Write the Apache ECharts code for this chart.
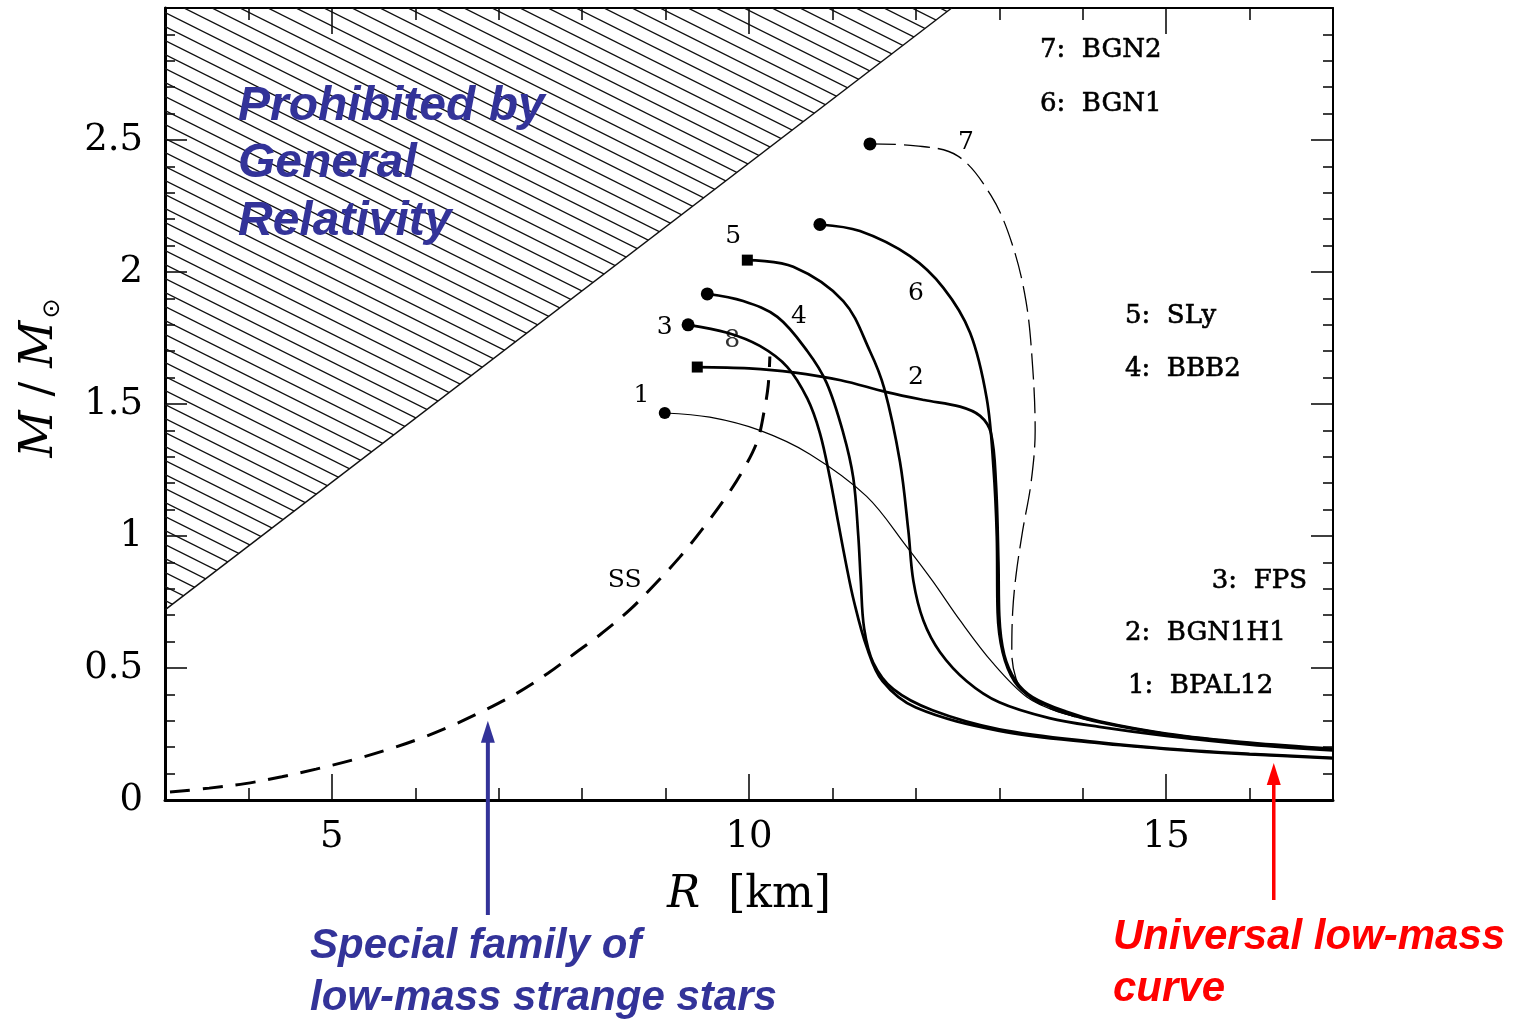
<!DOCTYPE html>
<html><head><meta charset="utf-8">
<script src="https://cdn.jsdelivr.net/npm/echarts@6/dist/echarts.min.js"></script>
<style>html,body{margin:0;padding:0;background:#fff}#c{width:1522px;height:1023px}</style>
</head><body><div id="c"></div>
<script>
// ---- data (R in km, M in solar masses) ----
const xLabeledTicks = [5, 10, 15];
const yTickLabels = ['0', '0.5', '1', '1.5', '2', '2.5'];
const grLimit = [[3, 0.72], [12.43, 3]];

const BGN2 = [[11.45,2.485],[12.0,2.478],[12.5,2.44],[12.9,2.29],[13.15,2.11],[13.32,1.89],[13.40,1.64],[13.43,1.40],[13.38,1.20],[13.28,1.02],[13.20,0.85],[13.16,0.71],[13.15,0.56],[13.2,0.46],[13.3,0.41],[13.45,0.37],[13.8,0.325],[14.2,0.295],[15.0,0.25],[16.0,0.215],[17.0,0.192]];
const BGN1 = [[10.85,2.18],[11.33,2.155],[11.93,2.06],[12.33,1.94],[12.65,1.77],[12.85,1.52],[12.93,1.26],[12.97,1.0],[12.98,0.71],[13.04,0.56],[13.18,0.45],[13.4,0.385],[13.8,0.33],[14.2,0.295],[15.0,0.25],[16.0,0.215],[17.0,0.192]];
const BGN1H1 = [[9.38,1.64],[10.0,1.635],[10.53,1.62],[11.1,1.59],[11.65,1.545],[12.1,1.515],[12.53,1.49],[12.77,1.455],[12.9,1.39],[12.96,1.2],[12.99,0.9],[13.0,0.7],[13.06,0.55],[13.2,0.45],[13.4,0.39],[13.8,0.335],[14.2,0.298],[15.0,0.252],[16.0,0.217],[17.0,0.194]];
const SLy = [[9.98,2.045],[10.53,2.02],[11.13,1.89],[11.45,1.70],[11.62,1.56],[11.81,1.28],[11.91,1.02],[11.97,0.83],[12.09,0.68],[12.29,0.56],[12.61,0.45],[13.0,0.37],[13.6,0.31],[14.2,0.277],[15.0,0.243],[16.0,0.21],[17.0,0.188]];
const BBB2 = [[9.5,1.917],[9.93,1.89],[10.34,1.83],[10.70,1.70],[10.93,1.58],[11.13,1.39],[11.25,1.22],[11.31,1.0],[11.34,0.83],[11.38,0.65],[11.49,0.52],[11.73,0.42],[12.2,0.34],[13.0,0.268],[14.2,0.218],[15.0,0.195],[16.0,0.175],[17.0,0.16]];
const FPS = [[9.27,1.80],[9.74,1.77],[10.13,1.72],[10.46,1.64],[10.70,1.52],[10.85,1.39],[10.97,1.22],[11.07,1.05],[11.16,0.9],[11.26,0.75],[11.41,0.58],[11.6,0.45],[12.0,0.35],[13.0,0.262],[14.2,0.215],[15.0,0.193],[16.0,0.173],[17.0,0.158]];
const BPAL12 = [[8.99,1.466],[9.53,1.45],[10.13,1.40],[10.73,1.31],[11.41,1.15],[11.89,0.96],[12.2,0.83],[12.53,0.68],[12.92,0.52],[13.33,0.39],[13.7,0.335],[14.2,0.297],[15.0,0.252],[16.0,0.216],[17.0,0.193]];
const SS = [[3.06,0.03],[3.53,0.045],[3.96,0.062],[4.40,0.088],[4.81,0.117],[5.23,0.15],[5.64,0.188],[6.05,0.232],[6.44,0.282],[6.83,0.34],[7.22,0.405],[7.59,0.48],[7.91,0.555],[8.21,0.625],[8.57,0.72],[8.85,0.81],[9.17,0.92],[9.45,1.03],[9.73,1.15],[9.93,1.25],[10.10,1.36],[10.18,1.47],[10.23,1.57],[10.25,1.68]];

const curveLabels = [['1',8.71,1.534],['3',8.99,1.788],['5',9.81,2.133],['4',10.60,1.833],['6',12.0,1.917],['2',12.0,1.602],['7',12.60,2.489],['SS',8.51,0.833]];
const hiddenLabel = [['8',9.80,1.742]];
const legendLines = ['7:  BGN2','6:  BGN1','5:  SLy','4:  BBB2','3:  FPS','2:  BGN1H1','1:  BPAL12'];
const arrowTips = { blue: [6.87, 0.30], red: [16.29, 0.14] };

// ---- hatch pattern ----
function hatchPattern() {
  const W = 28, H = 14;
  const c = document.createElement('canvas');
  c.width = W; c.height = H;
  const g = c.getContext('2d');
  g.strokeStyle = '#111'; g.lineWidth = 1.3;
  for (const off of [-H, 0, H]) {
    g.beginPath(); g.moveTo(-2, off - 1); g.lineTo(W + 2, off + H + 1); g.stroke();
  }
  return { image: c, repeat: 'repeat' };
}
const pattern = hatchPattern();

const chart = echarts.init(document.getElementById('c'), null, { renderer: 'canvas' });
const serif = 'DejaVu Serif';
const blk = '#000';

function lineSeries(data, width, type) {
  return { type: 'line', data: data, xAxisIndex: 0, yAxisIndex: 0, showSymbol: false, symbol: 'none',
    smooth: 0.35, lineStyle: { color: blk, width: width, type: type || 'solid' }, z: 3, silent: true, animation: false };
}

const xBase = { type: 'value', min: 3, max: 17, gridIndex: 0, splitLine: { show: false } };
const yBase = { type: 'value', min: 0, max: 3, gridIndex: 0, splitLine: { show: false } };
const numLabel = { show: true, position: 'inside', formatter: p => p.data[2], fontFamily: serif, fontSize: 25, color: blk, opacity: 1 };

chart.setOption({
  animation: false,
  backgroundColor: '#fff',
  grid: { left: 165, right: 189, top: 8, bottom: 223, containLabel: false },
  xAxis: [
    Object.assign({}, xBase, { position: 'bottom', interval: 1,
      axisLine: { show: true, onZero: false, lineStyle: { color: blk, width: 3 } },
      axisTick: { show: true, inside: true, length: 12, lineStyle: { color: blk, width: 1.5 } },
      axisLabel: { customValues: xLabeledTicks, margin: 19, fontFamily: serif, fontSize: 37, color: blk },
      name: '{i|R}  [km]', nameLocation: 'middle', nameGap: 74,
      nameTextStyle: { fontFamily: serif, fontSize: 44, color: blk,
        rich: { i: { fontFamily: serif, fontStyle: 'italic', fontSize: 44, color: blk } } } }),
    Object.assign({}, xBase, { position: 'bottom',
      axisLine: { show: false, onZero: false },
      axisTick: { show: true, inside: true, length: 26, customValues: xLabeledTicks, lineStyle: { color: blk, width: 1.5 } },
      axisLabel: { show: false } }),
    Object.assign({}, xBase, { position: 'top', interval: 1,
      axisLine: { show: true, onZero: false, lineStyle: { color: blk, width: 2 } },
      axisTick: { show: true, inside: true, length: 12, lineStyle: { color: blk, width: 1.5 } },
      axisLabel: { show: false } }),
    Object.assign({}, xBase, { position: 'top',
      axisLine: { show: false, onZero: false },
      axisTick: { show: true, inside: true, length: 26, customValues: xLabeledTicks, lineStyle: { color: blk, width: 1.5 } },
      axisLabel: { show: false } })
  ],
  yAxis: [
    Object.assign({}, yBase, { position: 'left', interval: 0.5,
      axisLine: { show: true, onZero: false, lineStyle: { color: blk, width: 3 } },
      axisTick: { show: true, inside: true, length: 22, lineStyle: { color: blk, width: 1.5 } },
      minorTick: { show: true, splitNumber: 5, length: 10, lineStyle: { color: blk, width: 1.5 } },
      minorSplitLine: { show: false },
      axisLabel: { margin: 22, fontFamily: serif, fontSize: 37, color: blk,
        formatter: v => (v < 3 ? yTickLabels[Math.round(v / 0.5)] : '') } }),
    Object.assign({}, yBase, { position: 'right', interval: 0.5,
      axisLine: { show: true, onZero: false, lineStyle: { color: blk, width: 2 } },
      axisTick: { show: true, inside: true, length: 22, lineStyle: { color: blk, width: 1.5 } },
      minorTick: { show: true, splitNumber: 5, length: 10, lineStyle: { color: blk, width: 1.5 } },
      minorSplitLine: { show: false },
      axisLabel: { show: false } })
  ],
  series: [
    { type: 'custom', xAxisIndex: 0, yAxisIndex: 0, data: [grLimit[0]], z: 1, silent: true,
      renderItem: function (params, api) {
        const a = api.coord(grLimit[0]), b = api.coord(grLimit[1]), c = api.coord([grLimit[0][0], grLimit[1][1]]);
        return { type: 'group', children: [
          { type: 'polygon', shape: { points: [a, b, c] }, style: { fill: pattern, stroke: null } },
          { type: 'line', shape: { x1: a[0], y1: a[1], x2: b[0], y2: b[1] }, style: { stroke: '#111', lineWidth: 1.5 } }
        ] };
      } },
    { type: 'scatter', data: hiddenLabel.map(d => [d[1], d[2], d[0]]), symbolSize: 1, itemStyle: { color: 'rgba(0,0,0,0)', opacity: 1 }, z: 2, silent: true,
      label: Object.assign({}, numLabel, { color: '#333' }) },
    lineSeries(BGN2, 1.3, [26, 8]),
    lineSeries(BGN1, 2.7),
    lineSeries(BGN1H1, 2.7),
    lineSeries(SLy, 2.7),
    lineSeries(BBB2, 2.7),
    lineSeries(FPS, 2.7),
    lineSeries(BPAL12, 1.2),
    lineSeries(SS, 3, [20, 13]),
    { type: 'scatter', z: 5, silent: true, itemStyle: { color: blk, opacity: 1 },
      data: [
        { value: BGN2[0], symbol: 'circle', symbolSize: 13 },
        { value: BGN1[0], symbol: 'circle', symbolSize: 13 },
        { value: BBB2[0], symbol: 'circle', symbolSize: 13 },
        { value: FPS[0], symbol: 'circle', symbolSize: 13 },
        { value: BPAL12[0], symbol: 'circle', symbolSize: 12 },
        { value: SLy[0], symbol: 'rect', symbolSize: 11 },
        { value: BGN1H1[0], symbol: 'rect', symbolSize: 11 }
      ] },
    { type: 'scatter', data: curveLabels.map(d => [d[1], d[2], d[0]]), symbolSize: 1, itemStyle: { color: 'rgba(0,0,0,0)', opacity: 1 }, z: 6, silent: true,
      label: numLabel }
  ]
});

// ---- annotations ----
const bt = chart.convertToPixel({ xAxisIndex: 0, yAxisIndex: 0 }, arrowTips.blue);
const rt = chart.convertToPixel({ xAxisIndex: 0, yAxisIndex: 0 }, arrowTips.red);
function arrow(tip, tailY, color, w) {
  return [
    { type: 'line', shape: { x1: tip[0], y1: tip[1] + 18, x2: tip[0], y2: tailY }, style: { stroke: color, lineWidth: w }, z: 10 },
    { type: 'polygon', shape: { points: [[tip[0], tip[1]], [tip[0] - 7, tip[1] + 22], [tip[0] + 7, tip[1] + 22]] }, style: { fill: color }, z: 10 }
  ];
}
const legFont = '26px "DejaVu Serif"';
const legendPos = [[1040, 50, 'left'], [1040, 104, 'left'], [1125, 316, 'left'], [1125, 369, 'left'], [1307, 581, 'right'], [1125, 633, 'left'], [1128, 686, 'left']];
const legendGraphics = legendLines.map((t, i) => ({ type: 'text', x: legendPos[i][0], y: legendPos[i][1], z: 10,
  style: { text: t, font: legFont, fill: blk, stroke: blk, lineWidth: 0.6, align: legendPos[i][2], verticalAlign: 'middle' } }));
const blue = '#333399', red = '#ff0000';
chart.setOption({
  graphic: [
    ...legendGraphics,
    { type: 'text', x: 40, y: 378, rotation: Math.PI / 2, z: 10,
      style: { text: '{i|M} / {i|M}{s|⊙}', align: 'center', verticalAlign: 'middle', fill: blk,
        font: '44px "DejaVu Serif"',
        rich: { i: { fontFamily: serif, fontStyle: 'italic', fontSize: 46, lineHeight: 58, verticalAlign: 'middle' },
                s: { fontFamily: 'DejaVu Sans', fontSize: 24, lineHeight: 58, verticalAlign: 'bottom', padding: [0, 0, 4, 2] } } } },
    { type: 'text', x: 238, y: 78, z: 10, style: { text: 'Prohibited by\nGeneral\nRelativity', font: 'italic bold 48px "Liberation Sans"', fill: blue, lineHeight: 57.5, verticalAlign: 'top' } },
    { type: 'text', x: 310, y: 920, z: 10, style: { text: 'Special family of\nlow-mass strange stars', font: 'italic bold 42px "Liberation Sans"', fill: blue, lineHeight: 52, verticalAlign: 'top' } },
    { type: 'text', x: 1113, y: 911, z: 10, style: { text: 'Universal low-mass\ncurve', font: 'italic bold 42px "Liberation Sans"', fill: red, lineHeight: 52, verticalAlign: 'top' } },
    ...arrow(bt, 915, blue, 4),
    ...arrow(rt, 900, red, 3.5)
  ]
});
</script></body></html>
